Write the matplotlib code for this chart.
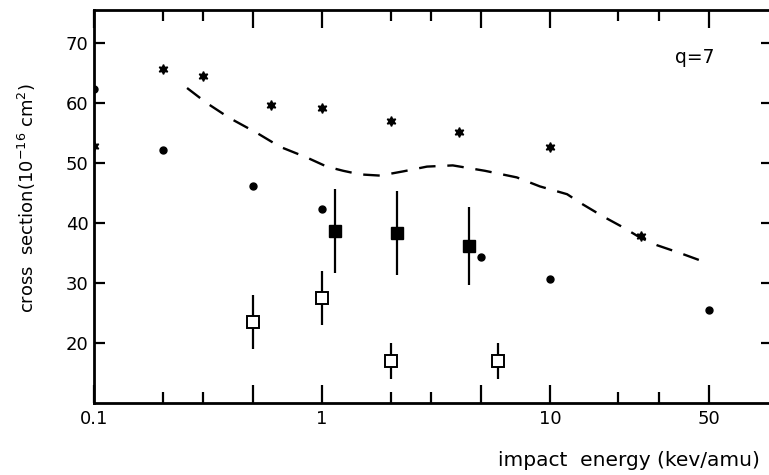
import matplotlib
matplotlib.use("Agg")
import matplotlib.pyplot as plt
from matplotlib.ticker import FixedLocator, FixedFormatter, NullFormatter

plt.rcParams['font.family'] = ['DejaVu Sans']
plt.rcParams['mathtext.fontset'] = 'dejavusans'

# stars
star_x = [0.1, 0.2, 0.3, 0.6, 1.0, 2.0, 4.0, 10.0, 25.0]
star_y = [52.8, 65.7, 64.5, 59.7, 59.2, 57.0, 55.2, 52.6, 37.8]

# filled dots
dot_x = [0.1, 0.2, 0.5, 1.0, 5.0, 10.0, 50.0]
dot_y = [62.4, 52.1, 46.1, 42.3, 34.3, 30.6, 25.5]

# filled squares with error bars
fsq_x = [1.14, 2.13, 4.4]
fsq_y = [38.6, 38.4, 36.1]
fsq_err = [7.0, 7.0, 6.5]

# open squares with error bars
osq_x = [0.5, 1.0, 2.0, 5.9]
osq_y = [23.5, 27.5, 17.0, 17.0]
osq_err = [4.5, 4.5, 3.0, 3.0]

# dashed theory curve
curve_x = [0.256, 0.312, 0.393, 0.519, 0.655, 0.86, 1.05, 1.24, 1.47, 1.80,
           2.27, 2.89, 3.75, 5.19, 7.16, 9.04, 11.9, 13.95, 17.1, 20.9, 24.8,
           29.5, 37.2, 46.9, 49.0]
curve_y = [62.5, 60.0, 57.5, 55.0, 52.7, 50.9, 49.4, 48.7, 48.1, 47.9,
           48.6, 49.4, 49.6, 48.7, 47.6, 46.1, 44.8, 43.1, 41.1, 39.3, 37.6,
           36.3, 35.0, 33.6, 33.3]

fig = plt.figure(figsize=(7.69, 4.75), dpi=100)
ax = fig.add_axes([94 / 769, 72 / 475, 678 / 769, 393 / 475])
ax.set_xscale('log')

ax.plot(curve_x, curve_y, color='black', lw=1.7, linestyle=(0, (7, 5)))
ax.plot(star_x, star_y, linestyle='none', marker=(6, 1, 0), color='black',
        markersize=7)
ax.plot(dot_x, dot_y, linestyle='none', marker='o', color='black', markersize=5)
ax.errorbar(fsq_x, fsq_y, yerr=fsq_err, fmt='s', color='black', ecolor='black',
            elinewidth=1.6, capsize=0, markersize=8)
ax.errorbar(osq_x, osq_y, yerr=osq_err, fmt='s', color='black', ecolor='black',
            markerfacecolor='white', markeredgewidth=1.4, elinewidth=1.6,
            capsize=0, markersize=8, zorder=3)

ax.set_xlim(0.1, 94.3)
ax.set_ylim(10, 75.5)

ax.xaxis.set_major_locator(FixedLocator([0.1, 0.5, 1, 5, 10, 50]))
ax.xaxis.set_major_formatter(FixedFormatter(['0.1', '', '1', '', '10', '50']))
ax.xaxis.set_minor_locator(FixedLocator([0.2, 0.3, 2, 3, 20, 30]))
ax.xaxis.set_minor_formatter(NullFormatter())
ax.set_yticks([20, 30, 40, 50, 60, 70])

ax.tick_params(axis='x', which='major', direction='in', top=True, bottom=True,
               length=13, width=1.6, labelsize=13, pad=5)
ax.tick_params(axis='x', which='minor', direction='in', top=True, bottom=True,
               length=8, width=1.6)
ax.tick_params(axis='y', which='major', direction='in', left=True, right=True,
               length=8, width=1.6, labelsize=13, pad=4)

for s in ax.spines.values():
    s.set_linewidth(2)

ax.text(0.886, 0.88, 'q=7', transform=ax.transAxes, fontsize=13.5,
        ha='center', va='center')

fig.text(0.818, 0.031, 'impact  energy (kev/amu)', fontsize=14.5,
         ha='center', va='center')
fig.text(0.035, 0.583, r'cross  section(10$^{-16}$ cm$^{2}$)', fontsize=13,
         rotation=90, ha='center', va='center')

fig.savefig('out.png', dpi=100)
